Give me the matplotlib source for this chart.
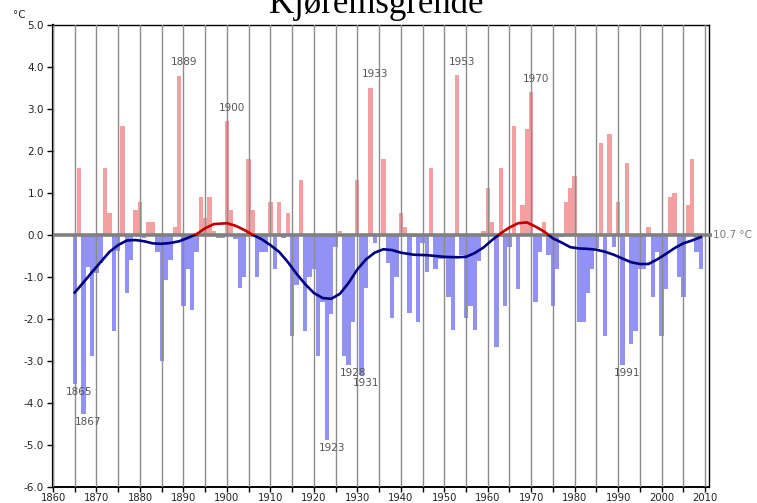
import numpy as np
import matplotlib.pyplot as plt
from matplotlib.patches import Rectangle
from matplotlib.ticker import MultipleLocator

# yearly deviation from the normal (10.7 °C)
years = list(range(1865, 2010))
anomaly = [
    -3.55, 1.60, -4.27, -0.75, -2.87, -0.90, -0.67, 1.60, 0.52, -2.28,   # 1865-1874
    -0.37, 2.60, -1.39, -0.60, 0.60, 0.79, -0.06, 0.32, 0.32, -0.40,     # 1875-1884
    -2.99, -1.07, -0.60, 0.20, 3.79, -1.68, -0.80, -1.79, -0.40, 0.91,   # 1885-1894
    0.40, 0.91, 0.10, -0.06, -0.08, 2.71, 0.60, -0.10, -1.27, -0.99,     # 1895-1904
    1.80, 0.60, -0.99, -0.40, -0.40, 0.79, -0.80, 0.79, -0.08, 0.52,     # 1905-1914
    -2.40, -1.19, 1.31, -2.28, -0.99, -0.80, -2.87, -1.60, -4.88, -1.88, # 1915-1924
    -0.29, 0.10, -2.87, -3.10, -2.08, 1.31, -3.33, -1.27, 3.51, -0.18,   # 1925-1934
    -0.05, 1.80, -0.67, -1.98, -0.99, 0.52, 0.20, -1.86, -0.05, -2.06,   # 1935-1944
    -0.20, -0.87, 1.60, -0.80, -0.56, -0.56, -1.47, -2.26, 3.81, -0.48,  # 1945-1954
    -1.98, -1.69, -2.26, -0.63, 0.10, 1.11, 0.32, -2.67, 1.60, -1.68,    # 1955-1964
    -0.29, 2.60, -1.29, 0.71, 2.52, 3.40, -1.60, -0.40, 0.32, -0.48,     # 1965-1974
    -1.69, -0.80, -0.05, 0.79, 1.11, 1.40, -2.08, -2.08, -1.39, -0.80,   # 1975-1984
    -0.32, 2.20, -2.40, 2.40, -0.29, 0.79, -3.10, 1.71, -2.60, -2.29,    # 1985-1994
    -0.80, -0.80, 0.20, -1.48, -0.40, -2.40, -1.29, 0.91, 0.99, -0.99,   # 1995-2004
    -1.48, 0.71, 1.80, -0.40, -0.80,                                     # 2005-2009
]

# smoothed curve
smooth_years = [1865, 1867, 1869, 1871, 1873, 1875, 1877, 1879, 1881, 1883,
                1885, 1887, 1889, 1891, 1893, 1895, 1897, 1900, 1902, 1904,
                1906, 1908, 1910, 1912, 1914, 1916, 1918, 1920, 1922, 1924,
                1926, 1928, 1930, 1932, 1934, 1936, 1938, 1940, 1943, 1946,
                1950, 1953, 1955, 1957, 1959, 1961, 1963, 1965, 1967, 1969,
                1971, 1973, 1975, 1977, 1979, 1981, 1983, 1985, 1987, 1989,
                1991, 1993, 1995, 1997, 1999, 2001, 2003, 2005, 2007, 2009]
smooth_vals = [-1.37, -1.13, -0.88, -0.64, -0.40, -0.24, -0.13, -0.12, -0.15, -0.20,
               -0.21, -0.19, -0.15, -0.07, 0.02, 0.16, 0.26, 0.28, 0.22, 0.12,
               0.00, -0.10, -0.24, -0.40, -0.64, -0.92, -1.17, -1.38, -1.50, -1.52,
               -1.40, -1.14, -0.82, -0.58, -0.42, -0.34, -0.36, -0.42, -0.47, -0.48,
               -0.52, -0.53, -0.52, -0.43, -0.30, -0.12, 0.04, 0.18, 0.28, 0.30,
               0.20, 0.08, -0.08, -0.18, -0.29, -0.32, -0.33, -0.35, -0.40, -0.47,
               -0.56, -0.65, -0.69, -0.69, -0.58, -0.45, -0.31, -0.20, -0.13, -0.05]

label_years = [1865, 1867, 1889, 1900, 1923, 1928, 1931, 1933, 1953, 1970, 1991]

red_bar = '#F4A0A0'
blue_bar = '#9292F4'

fig = plt.figure(figsize=(7.57, 5.03), dpi=100)
ax = fig.add_axes([53 / 757, 1 - 487 / 503, 656 / 757, 462 / 503])

vals = np.array(anomaly)
cols = [red_bar if v > 0 else blue_bar for v in vals]
ax.bar(years, vals, width=1.0, color=cols, linewidth=0, zorder=1)

ax.set_xlim(1860, 2010.9)
ax.set_ylim(-6, 5)
ax.xaxis.set_major_locator(MultipleLocator(10))
ax.xaxis.set_minor_locator(MultipleLocator(5))
ax.set_yticks(range(-6, 6))
ax.set_yticklabels([f'{v:.1f}' for v in range(-6, 6)])
ax.set_axisbelow(False)
ax.grid(axis='x', which='both', color='#8c8c8c', linewidth=1.0)

ax.tick_params(axis='y', direction='out', length=4.5, width=1,
               color='black', labelsize=7.5, labelcolor='#222222', pad=2)
ax.tick_params(axis='x', which='both', direction='out', length=3.5, width=1,
               color='black', labelsize=7.2, labelcolor='#222222', pad=0.8)
for s in ax.spines.values():
    s.set_color('black')
    s.set_linewidth(1.0)
ax.spines['left'].set_linewidth(1.6)
ax.spines['bottom'].set_linewidth(1.4)

# zero (normal) line, running a little past the frame
ax.plot([1860, 2011.7], [0, 0], color='#808080', linewidth=2.6, clip_on=False,
        zorder=3, solid_capstyle='butt')
ax.text(2011.9, 0, '10.7 °C', fontsize=7.5, color='#777777', ha='left',
        va='center', clip_on=False)

# smoothed curve: red above the normal, navy below
up = Rectangle((1860, 0), 152, 5, transform=ax.transData)
down = Rectangle((1860, -6), 152, 6, transform=ax.transData)
l1, = ax.plot(smooth_years, smooth_vals, color='#C00000', linewidth=1.9, zorder=4)
l2, = ax.plot(smooth_years, smooth_vals, color='#000080', linewidth=1.9, zorder=4)
l1.set_clip_path(up)
l2.set_clip_path(down)

# extreme year labels
for y in label_years:
    v = anomaly[years.index(y)]
    if v > 0:
        ax.annotate(str(y), (y + 1.1, v), xytext=(0, 6), textcoords='offset points',
                    ha='center', va='bottom', fontsize=7.5, color='#555555')
    else:
        ax.annotate(str(y), (y + 1.1, v), xytext=(0, -2), textcoords='offset points',
                    ha='center', va='top', fontsize=7.5, color='#555555')

fig.text(376 / 757, 1 - 13 / 503, 'Kjøremsgrende', ha='center', va='baseline',
         fontsize=25, family='Liberation Serif')
fig.text(19 / 757, 1 - 15 / 503, '°C', ha='center', va='center', fontsize=7.5,
         color='#222222')

fig.savefig('out.png', dpi=100, facecolor='white')
